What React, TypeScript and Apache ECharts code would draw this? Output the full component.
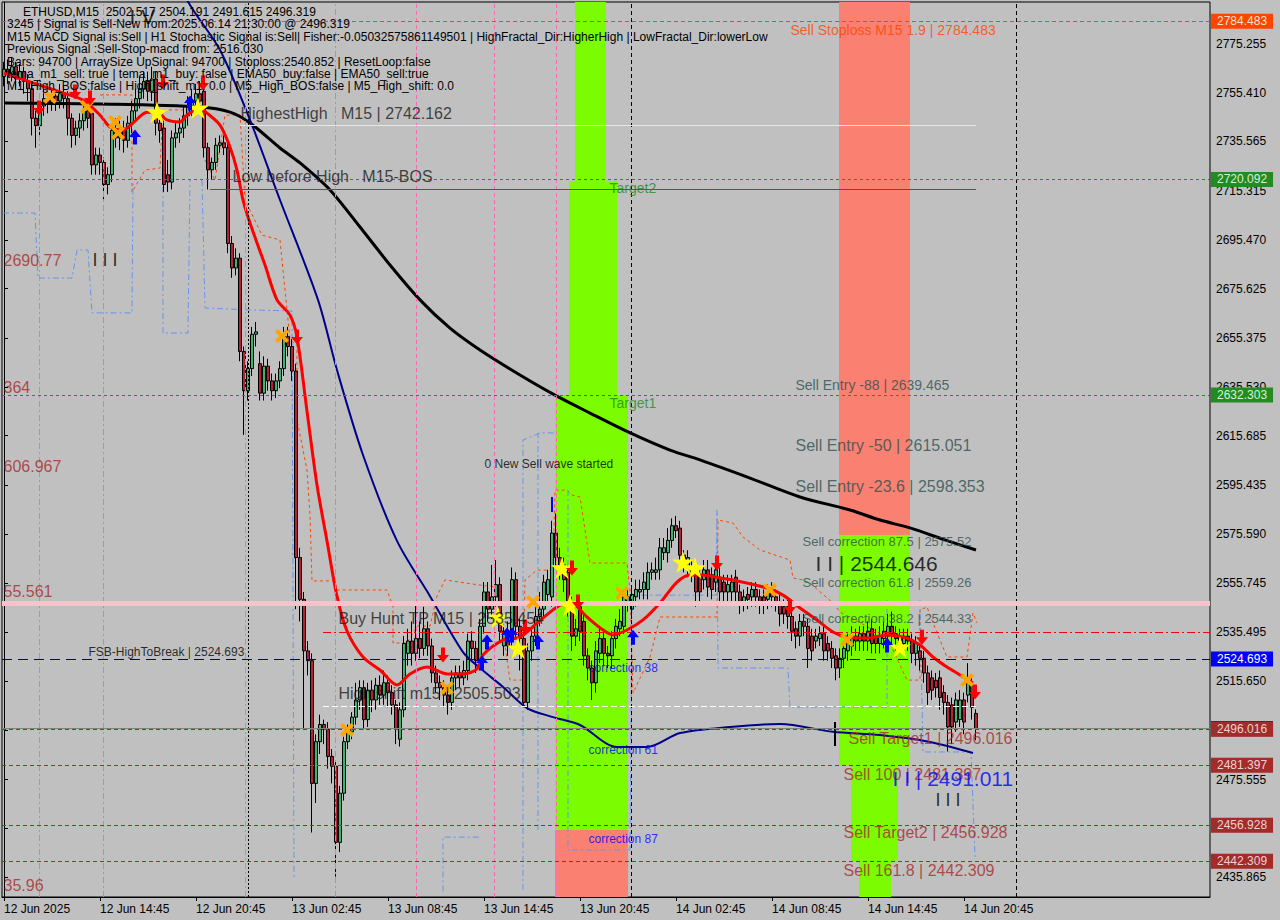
import React, { useEffect, useRef } from "react";
import * as echarts from "echarts";

const FONT = '"Liberation Sans", Arial, sans-serif';
const MONTHS = ["Jan", "Feb", "Mar", "Apr", "May", "Jun", "Jul", "Aug", "Sep", "Oct", "Nov", "Dec"];
const FIRST_BAR_UTC = Date.UTC(2025, 5, 12, 8, 45);
const SLOT_COUNT = 302;
const FIRST_LABEL = "12 Jun 2025";
const pad2 = (n: number) => String(n).padStart(2, "0");
const categories: string[] = Array.from({ length: SLOT_COUNT }, (_, k) => {
  const d = new Date(FIRST_BAR_UTC + k * 15 * 60000);
  return `${d.getUTCDate()} ${MONTHS[d.getUTCMonth()]} ${pad2(d.getUTCHours())}:${pad2(d.getUTCMinutes())}`;
});

const Y_MIN = 2427.72;
const Y_MAX = 2792.37;
const yTicks = [
  2775.255, 2755.41, 2735.565, 2715.315, 2695.47, 2675.625, 2655.375, 2635.53, 2615.685,
  2595.435, 2575.59, 2555.745, 2535.495, 2515.65, 2495.805, 2475.555, 2455.71, 2435.865,
];
// tick labels hidden behind the price badges in the reference are not drawn
const yTickLabels = [
  2775.255, 2755.41, 2735.565, 2715.315, 2695.47, 2675.625, 2655.375, 2635.53, 2615.685,
  2595.435, 2575.59, 2555.745, 2535.495, 2515.65, 2475.555, 2435.865,
];

// [open, close, low, high]
const candles: number[][] = [
  [2762, 2765, 2758, 2768], [2765, 2763, 2759, 2769], [2763, 2766, 2760, 2770], [2766, 2761, 2757, 2768],
  [2761, 2764, 2758, 2767], [2764, 2760, 2755, 2766], [2760, 2757, 2752, 2763], [2757, 2745, 2738, 2759],
  [2745, 2742, 2733, 2748], [2742, 2750, 2738, 2752], [2750, 2753, 2746, 2757], [2753, 2751, 2747, 2756],
  [2751, 2754, 2748, 2757], [2754, 2752, 2748, 2757], [2752, 2755, 2749, 2759], [2755, 2753, 2749, 2758],
  [2753, 2745, 2738, 2756], [2745, 2738, 2733, 2747], [2738, 2741, 2734, 2744], [2741, 2744, 2737, 2747],
  [2744, 2748, 2740, 2751], [2748, 2745, 2741, 2752], [2747, 2726, 2722, 2749], [2726, 2730, 2722, 2733],
  [2730, 2727, 2722, 2733], [2727, 2718, 2712, 2729], [2718, 2722, 2714, 2725], [2722, 2740, 2719, 2742],
  [2740, 2737, 2733, 2745], [2737, 2741, 2732, 2744], [2741, 2736, 2731, 2744], [2736, 2743, 2733, 2746],
  [2743, 2748, 2739, 2752], [2748, 2753, 2744, 2757], [2753, 2757, 2749, 2762], [2757, 2760, 2753, 2764],
  [2760, 2756, 2752, 2764], [2756, 2761, 2752, 2766], [2761, 2743, 2738, 2764], [2743, 2740, 2735, 2747],
  [2741, 2718, 2715, 2744], [2722, 2719, 2715, 2728], [2719, 2737, 2716, 2740], [2737, 2739, 2733, 2743],
  [2739, 2741, 2735, 2745], [2741, 2746, 2737, 2750], [2746, 2750, 2742, 2754], [2750, 2752, 2746, 2757],
  [2752, 2755, 2748, 2759], [2755, 2752, 2747, 2760], [2756, 2733, 2729, 2759], [2733, 2724, 2716, 2735],
  [2724, 2727, 2720, 2729], [2727, 2734, 2724, 2737], [2734, 2735, 2731, 2738], [2735, 2733, 2730, 2738],
  [2733, 2694, 2690, 2736], [2694, 2684, 2680, 2697], [2684, 2688, 2681, 2692], [2688, 2650, 2646, 2690],
  [2650, 2634, 2616, 2652], [2634, 2643, 2630, 2646], [2643, 2657, 2640, 2660], [2657, 2658, 2652, 2662],
  [2645, 2633, 2630, 2650], [2633, 2644, 2630, 2648], [2644, 2638, 2634, 2647], [2638, 2634, 2630, 2641],
  [2634, 2638, 2631, 2641], [2638, 2643, 2635, 2646], [2643, 2656, 2640, 2660], [2656, 2652, 2648, 2660],
  [2652, 2642, 2638, 2655], [2642, 2566, 2545, 2645], [2566, 2549, 2540, 2570], [2549, 2528, 2496, 2552],
  [2528, 2524, 2518, 2532], [2524, 2474, 2454, 2527], [2474, 2491, 2466, 2494], [2491, 2498, 2486, 2502],
  [2498, 2496, 2490, 2500], [2496, 2485, 2480, 2499], [2485, 2481, 2474, 2488], [2481, 2450, 2436, 2483],
  [2450, 2470, 2446, 2473], [2470, 2491, 2467, 2493], [2491, 2495, 2488, 2498], [2495, 2501, 2492, 2503],
  [2501, 2508, 2498, 2515], [2508, 2513, 2504, 2516], [2513, 2500, 2496, 2516], [2500, 2512, 2497, 2515],
  [2512, 2508, 2503, 2516], [2508, 2514, 2504, 2517], [2514, 2510, 2506, 2518], [2510, 2515, 2506, 2520],
  [2515, 2511, 2505, 2518], [2511, 2506, 2502, 2514], [2506, 2496, 2490, 2508], [2492, 2504, 2489, 2507],
  [2504, 2531, 2501, 2534], [2527, 2532, 2522, 2537], [2532, 2527, 2522, 2540], [2527, 2533, 2524, 2547],
  [2533, 2529, 2525, 2540], [2529, 2537, 2526, 2546], [2537, 2530, 2526, 2540], [2530, 2519, 2515, 2533],
  [2519, 2515, 2511, 2522], [2515, 2513, 2508, 2518], [2513, 2510, 2505, 2516], [2510, 2507, 2502, 2513],
  [2507, 2517, 2504, 2520], [2517, 2519, 2512, 2522], [2519, 2517, 2513, 2522], [2517, 2520, 2514, 2524],
  [2520, 2532, 2516, 2535], [2532, 2529, 2524, 2536], [2529, 2524, 2519, 2532], [2524, 2538, 2520, 2541],
  [2538, 2552, 2535, 2556], [2552, 2545, 2540, 2556], [2545, 2550, 2541, 2563], [2550, 2555, 2546, 2565],
  [2555, 2536, 2532, 2558], [2530, 2536, 2526, 2539], [2536, 2530, 2526, 2540], [2535, 2557, 2530, 2562],
  [2557, 2538, 2533, 2560], [2538, 2533, 2520, 2541], [2533, 2507, 2505, 2536], [2507, 2528, 2504, 2531],
  [2528, 2534, 2524, 2537], [2534, 2542, 2530, 2546], [2542, 2545, 2538, 2552], [2545, 2556, 2541, 2559],
  [2551, 2557, 2547, 2561], [2550, 2576, 2546, 2581], [2576, 2566, 2562, 2584], [2566, 2563, 2557, 2570],
  [2563, 2557, 2552, 2566], [2560, 2547, 2542, 2563], [2547, 2534, 2528, 2550], [2534, 2537, 2530, 2541],
  [2546, 2536, 2532, 2550], [2540, 2526, 2522, 2543], [2526, 2521, 2516, 2529], [2521, 2515, 2508, 2524],
  [2515, 2528, 2511, 2532], [2527, 2533, 2523, 2537], [2533, 2527, 2522, 2537], [2527, 2526, 2521, 2530],
  [2526, 2533, 2521, 2536], [2533, 2538, 2529, 2541], [2537, 2540, 2534, 2545], [2538, 2550, 2535, 2553],
  [2548, 2550, 2544, 2553], [2545, 2551, 2541, 2554], [2550, 2553, 2546, 2557], [2552, 2553, 2549, 2557],
  [2553, 2556, 2549, 2560], [2553, 2560, 2549, 2564], [2560, 2561, 2557, 2564], [2560, 2561, 2557, 2566],
  [2561, 2570, 2557, 2574], [2568, 2570, 2565, 2574], [2568, 2573, 2564, 2578], [2573, 2579, 2570, 2582],
  [2579, 2577, 2574, 2583], [2578, 2567, 2563, 2581], [2567, 2564, 2560, 2569], [2562, 2566, 2558, 2569],
  [2562, 2560, 2556, 2565], [2560, 2552, 2546, 2563], [2559, 2552, 2548, 2562], [2557, 2561, 2553, 2565],
  [2561, 2554, 2550, 2565], [2559, 2553, 2549, 2562], [2556, 2561, 2552, 2564], [2558, 2552, 2548, 2562],
  [2556, 2552, 2547, 2559], [2552, 2555, 2548, 2559], [2552, 2556, 2548, 2559], [2558, 2552, 2548, 2561],
  [2552, 2547, 2543, 2555], [2547, 2550, 2544, 2553], [2551, 2549, 2545, 2554], [2550, 2553, 2546, 2556],
  [2553, 2550, 2546, 2556], [2550, 2547, 2543, 2553], [2550, 2547, 2543, 2553], [2549, 2552, 2545, 2555],
  [2552, 2550, 2546, 2556], [2550, 2548, 2544, 2553], [2548, 2543, 2538, 2552], [2546, 2543, 2539, 2549],
  [2546, 2542, 2537, 2549], [2542, 2536, 2532, 2545], [2537, 2534, 2529, 2540], [2534, 2540, 2530, 2543],
  [2540, 2538, 2534, 2543], [2538, 2529, 2521, 2541], [2534, 2528, 2524, 2537], [2532, 2534, 2529, 2537],
  [2533, 2535, 2530, 2538], [2535, 2528, 2524, 2538], [2531, 2528, 2524, 2534], [2529, 2525, 2521, 2532],
  [2526, 2521, 2516, 2529], [2521, 2525, 2517, 2529], [2525, 2529, 2521, 2532], [2528, 2532, 2524, 2535],
  [2530, 2534, 2526, 2538], [2534, 2532, 2528, 2537], [2532, 2535, 2528, 2538], [2535, 2532, 2528, 2538],
  [2532, 2536, 2528, 2540], [2537, 2531, 2527, 2541], [2534, 2531, 2527, 2537], [2531, 2534, 2527, 2538],
  [2533, 2536, 2529, 2540], [2534, 2538, 2530, 2543], [2538, 2535, 2531, 2544], [2535, 2533, 2528, 2538],
  [2534, 2532, 2527, 2537], [2531, 2534, 2527, 2537], [2534, 2532, 2528, 2537], [2532, 2527, 2523, 2535],
  [2527, 2531, 2522, 2534], [2528, 2525, 2520, 2531], [2525, 2519, 2515, 2528], [2519, 2511, 2506, 2522],
  [2517, 2512, 2508, 2520], [2516, 2513, 2509, 2519], [2517, 2509, 2504, 2520], [2511, 2507, 2502, 2514],
  [2507, 2497, 2487, 2510], [2506, 2497, 2490, 2509], [2499, 2508, 2495, 2511], [2500, 2508, 2497, 2512],
  [2508, 2499, 2494, 2511], [2510, 2516, 2507, 2523], [2514, 2505, 2500, 2517], [2502.517, 2496.319, 2491.615, 2504.191],
];

// moving averages, [bar index, price]
const slowEma = [
  [0, 2751.2], [24, 2750.8], [49, 2749.6], [56.5, 2747.5], [61.5, 2743.1], [69, 2732.9], [74, 2726.8],
  [81.5, 2715.8], [89, 2700.7], [96.5, 2685.2], [104, 2671.0], [111.5, 2659.5], [119, 2650.6], [129, 2640.4],
  [137.75, 2632.2], [146.5, 2624.9], [156, 2617.2], [166.5, 2609.8], [174, 2605.8], [186.5, 2598.4],
  [199, 2590.7], [211.5, 2585.4], [219, 2581.3], [226.5, 2578.1], [235.25, 2573.2], [243, 2569.1],
];
const midEma = [
  [40, 2812], [46.5, 2791.1], [54, 2772.8], [61.5, 2744.3], [69, 2711.7], [78.5, 2671.0], [83.25, 2642.4],
  [89.75, 2607.8], [98.25, 2572.8], [106.5, 2550.3], [114.75, 2527.5], [119, 2521.0], [124.75, 2513.3],
  [130.75, 2504.7], [137.25, 2501.0], [144, 2497.8], [153.25, 2488.8], [160.75, 2488.8], [169, 2494.5],
  [181.5, 2497.0], [194, 2498.2], [207.25, 2495.0], [219, 2493.7], [231.5, 2490.9], [242.25, 2486.4],
];
const fastEma = [
  [0, 2763.4], [7.25, 2759.4], [14, 2755.7], [19.75, 2752.4], [24, 2746.3], [26.5, 2741.4], [29.75, 2740.2],
  [32.25, 2743.1], [35.75, 2747.5], [38.25, 2747.5], [40.75, 2744.3], [44, 2743.5], [45.75, 2746.3],
  [49, 2749.2], [50.75, 2747.1], [54, 2742.2], [56.5, 2733.3], [58.25, 2723.9], [59.75, 2711.7],
  [61.5, 2702.3], [65.25, 2685.2], [68.25, 2671.0], [71.5, 2664.8], [73.25, 2655.9], [75.75, 2625.7],
  [78.25, 2595.6], [80.75, 2572.8], [83.25, 2550.3], [85.75, 2536.1], [89.75, 2525.5], [94, 2520.2],
  [98.25, 2514.1], [101.5, 2518.6], [105.75, 2521.4], [110.75, 2518.6], [114.75, 2518.6], [118.25, 2520.6],
  [119.75, 2526.3], [124.75, 2532.4], [129, 2533.6], [133.25, 2539.3], [138.25, 2545.9], [141.5, 2547.9],
  [145.75, 2541.8], [149.75, 2536.5], [152.25, 2534.5], [155.75, 2536.5], [159.75, 2540.6], [164, 2547.5],
  [168.25, 2556.0], [171.5, 2558.9], [174.75, 2558.9], [179, 2557.7], [182.25, 2556.9], [190.75, 2553.6],
  [194.75, 2550.7], [199, 2545.5], [203.25, 2540.6], [207.25, 2535.7], [210.75, 2533.6], [215.75, 2533.2],
  [220.75, 2534.5], [225.75, 2533.2], [229, 2530.4], [232.25, 2525.5], [235.75, 2521.4], [239, 2518.2],
  [242.25, 2514.9],
];

// fractal channels (step lines), [bar index, price]
const upperFractal = [
  [[24, 2754.5], [32, 2754.5], [32, 2714.95], [35.25, 2723.9], [39, 2724.7], [39.75, 2748.4], [45.25, 2748.4]],
  [[50.25, 2728.0], [52.75, 2719.8], [55.25, 2746.3], [59, 2746.3], [60.25, 2711.7], [64.5, 2697.4], [69, 2695.4],
   [71.5, 2654.7], [73.25, 2652.6], [73.25, 2622.1], [75.75, 2601.7], [76.5, 2583.4], [77, 2556.5], [82.75, 2556.5],
   [83.25, 2552.8], [95.75, 2552.8], [97.25, 2545.9], [97.25, 2531.2], [100.75, 2531.2], [103.25, 2538.1],
   [106.5, 2538.1], [108.25, 2550.3], [110.25, 2556.9], [119, 2554.8], [122.75, 2554.0], [124, 2544.7],
   [126.5, 2516.1], [129.75, 2516.1], [130.25, 2556.9], [133.25, 2560.9], [137.25, 2560.9], [137.75, 2593.5],
   [140.75, 2593.5], [142, 2591.5], [144, 2590.7], [145.25, 2577.3], [146.5, 2563.8], [155.75, 2563.8],
   [156.5, 2552.8], [157.25, 2510.8], [161.5, 2525.5], [164, 2541.8], [178.25, 2541.8], [178.5, 2581.3],
   [182.25, 2580.1], [184.75, 2574.4], [189, 2569.1], [196.5, 2565.0], [197.25, 2557.7], [199.75, 2556.9],
   [201.5, 2555.6], [207.25, 2547.5], [209, 2543.8], [220.75, 2533.6], [225.75, 2516.1], [229, 2516.1],
   [229, 2544.7], [230.75, 2545.9], [232.25, 2539.4], [235.75, 2525.5], [240.75, 2525.5], [242.25, 2543.4],
   [243.25, 2539.4]],
];
const lowerFractal = [
  [[-0.25, 2706.4], [7.75, 2706.4], [8.5, 2679.9], [17, 2679.9], [18.25, 2691.3], [21, 2691.3], [22, 2665.7],
   [32, 2665.7], [32.25, 2719.0]],
  [[39.75, 2717.0], [39.75, 2657.5], [46, 2657.5], [46.5, 2719.8]],
  [[49.5, 2719.8], [50.25, 2667.7], [61.5, 2666.9], [72, 2666.5], [72.5, 2435.5]],
  [[109.75, 2430], [109.75, 2452.1], [119.5, 2452.1]],
  [[129.75, 2430.6], [129.75, 2613.9], [134, 2616.8], [137.75, 2616.8]],
  [[133.5, 2455.0], [133.5, 2616.8]],
  [[141, 2593.5], [141, 2446.9], [156.5, 2446.9], [157, 2550.7], [178, 2550.7], [178.25, 2585.4], [178.5, 2521.0],
   [196, 2521.0], [196.5, 2505.1], [220.75, 2505.1], [220.75, 2548.7]],
  [[229, 2548.7], [229.75, 2486.8], [241.75, 2486.8], [242.75, 2444.0]],
];

// signal markers, [bar index, price]
const sellArrows = [
  [8.75, 2749.2], [17.75, 2755.7], [21.5, 2753.3], [39.75, 2759.8], [49.75, 2759.4], [73.25, 2655.9],
  [109.75, 2526.3], [130.25, 2537.7], [142, 2561.8], [143.5, 2547.9], [178.25, 2563.8], [196.5, 2545.9],
  [229.5, 2533.6], [242.75, 2511.2],
];
const buyArrows = [
  [32.75, 2737.4], [46.5, 2751.2], [119.5, 2523.1], [120.75, 2531.6], [125.75, 2534.5], [127, 2534.5],
  [133.5, 2531.6], [157.25, 2533.6], [220.75, 2530.4],
];
const stars = [
  [38.25, 2747.5], [48.5, 2749.2], [123.5, 2541.8], [128.5, 2529.2], [139.5, 2561.8], [141.5, 2546.7],
  [169.75, 2564.2], [172.75, 2561.8], [224, 2529.6],
];
const crosses = [
  [11.5, 2753.7], [20.75, 2749.6], [27.75, 2743.5], [28.5, 2739.0], [69.5, 2656.3], [85.75, 2495.8],
  [110.75, 2512.9], [132.25, 2547.9], [154.5, 2551.6], [191.5, 2552.8], [210.75, 2532.4], [240.75, 2516.1],
];

// price levels
const stoplossLevel = 2784.483;
const targetLevels = [2720.092, 2632.303];
const pinkLevel = 2547.5;
const buyHuntLevel = 2535.454;
const fsbLevel = 2524.693;
const highShiftLevel = 2505.503;
const bidLevel = 2496.319;
const sellLevels = [2496.016, 2481.397, 2456.928, 2442.309];
const highestHighLevel = 2742.162;
const lowBeforeHighLevel = 2716.2;

// zones [from corner, to corner]
const zones = [
  { from: [142.75, Y_MAX], to: [150.5, 2719.4], kind: "green" },
  { from: [141.25, 2719.4], to: [153.25, 2632.2], kind: "green" },
  { from: [137.75, 2632.2], to: [156, 2455.0], kind: "green" },
  { from: [137.75, 2455.0], to: [156, Y_MIN], kind: "salmon" },
  { from: [208.75, Y_MAX], to: [226.5, 2575.2], kind: "salmon" },
  { from: [208.75, 2575.2], to: [226.5, 2481.5], kind: "green" },
  { from: [211.75, 2481.5], to: [223.5, 2442.4], kind: "green" },
  { from: [213.75, 2442.4], to: [221.75, Y_MIN], kind: "green" },
];

const verticals = [
  { at: 8.75, kind: "cyan" }, { at: 24.75, kind: "cyan" }, { at: 60.25, kind: "cyan" }, { at: 82.75, kind: "cyan" },
  { at: 61, kind: "dotted" }, { at: 103, kind: "pink" }, { at: 122.5, kind: "pink" }, { at: 138, kind: "pink" },
  { at: 156.75, kind: "dashed" }, { at: 253, kind: "dashed" },
];
const shortMarks = [
  { from: [137, 2590.7], to: [137, 2584.6], kind: "blue" },
  { from: [207.75, 2499.0], to: [207.75, 2489.2], kind: "black" },
];

const annotations = [
  { text: "Sell Stoploss M15 1.9 | 2784.483", at: [196.5, 2780.96], kind: "stoploss" },
  { text: "HighestHigh   M15 | 2742.162", at: [59, 2747.1], kind: "level" },
  { text: "Low before High   M15-BOS", at: [57, 2721.1], kind: "level" },
  { text: "2690.77", at: [-0.25, 2687.2], kind: "edge" },
  { text: "I I I", at: [22, 2687.2], kind: "waveBlack" },
  { text: "364", at: [-0.25, 2635.5], kind: "edge" },
  { text: "606.967", at: [-0.25, 2603.3], kind: "edge" },
  { text: "55.561", at: [-0.25, 2552.0], kind: "edge" },
  { text: "35.96", at: [-0.25, 2432.6], kind: "edge" },
  { text: "Target2", at: [151.25, 2716.6], kind: "target" },
  { text: "Target1", at: [151.25, 2629.0], kind: "target" },
  { text: "0 New Sell wave started", at: [120, 2604.1], kind: "small" },
  { text: "Sell Entry -88 | 2639.465", at: [197.75, 2636.3], kind: "entrySmall" },
  { text: "Sell Entry -50 | 2615.051", at: [197.75, 2611.5], kind: "entry" },
  { text: "Sell Entry -23.6 | 2598.353", at: [197.75, 2594.8], kind: "entry" },
  { text: "Sell correction 87.5 | 2575.52", at: [199.5, 2572.4], kind: "correction" },
  { text: "I I | 2544.646", at: [202.75, 2563.4], kind: "waveBig" },
  { text: "Sell correction 61.8 | 2559.26", at: [199.5, 2556.0], kind: "correction" },
  { text: "Sell correction 38.2 | 2544.33", at: [199.5, 2541.0], kind: "correction" },
  { text: "Buy Hunt TP M15 | 2535.454", at: [83.5, 2541.0], kind: "level" },
  { text: "FSB-HighToBreak | 2524.693", at: [21, 2527.5], kind: "small" },
  { text: "High shift m15 | 2505.503", at: [83.5, 2510.8], kind: "level" },
  { text: "correction 38", at: [146, 2521.0], kind: "blueSmall" },
  { text: "correction 61", at: [146, 2487.6], kind: "blueSmall" },
  { text: "correction 87", at: [146, 2451.3], kind: "blueSmall" },
  { text: "Sell Target1 | 2496.016", at: [211, 2492.5], kind: "sell" },
  { text: "Sell 100 | 2481.397", at: [209.75, 2477.8], kind: "sell" },
  { text: "I I | 2491.011", at: [222, 2476.2], kind: "waveBlue" },
  { text: "I I I", at: [232.75, 2467.2], kind: "waveBlack" },
  { text: "Sell Target2 | 2456.928", at: [209.75, 2453.8], kind: "sell" },
  { text: "Sell 161.8 | 2442.309", at: [209.75, 2438.7], kind: "sell" },
  { text: "I V", at: [31.25, 2786.3], kind: "waveBig" },
];

const headerLines = [
  "ETHUSD,M15  2502.517 2504.191 2491.615 2496.319",
  "3245 | Signal is Sell-New from:2025.06.14 21:30:00 @ 2496.319",
  "M15 MACD Signal is:Sell | H1 Stochastic Signal is:Sell| Fisher:-0.05032575861149501 | HighFractal_Dir:HigherHigh | LowFractal_Dir:lowerLow",
  "Previous Signal :Sell-Stop-macd from: 2516.030",
  "Bars: 94700 | ArraySize UpSignal: 94700 | Stoploss:2540.852 | ResetLoop:false",
  "tema_m1_sell: true | tema_m1_buy: false | EMA50_buy:false | EMA50_sell:true",
  "M1_High_BOS:false | High_shift_m1: 0.0 | M5_High_BOS:false | M5_High_shift: 0.0",
];

const TEXT_STYLES: Record<string, any> = {
  stoploss: { color: "#FF4500", fontSize: 14 },
  level: { color: "#1A1A1A", fontSize: 16 },
  edge: { color: "#A52A2A", fontSize: 16 },
  waveBlack: { color: "#000000", fontSize: 18 },
  target: { color: "#228B22", fontSize: 14 },
  small: { color: "#000000", fontSize: 12 },
  entrySmall: { color: "#2F4F4F", fontSize: 14 },
  entry: { color: "#2F4F4F", fontSize: 16 },
  correction: { color: "#2F4F4F", fontSize: 13 },
  waveBig: { color: "#000000", fontSize: 21 },
  blueSmall: { color: "#0000FF", fontSize: 12 },
  sell: { color: "#A52A2A", fontSize: 16 },
  waveBlue: { color: "#0000FF", fontSize: 21 },
};
const ZONE_COLORS: Record<string, string> = { green: "#7CFC00", salmon: "#FA8072" };
const VERTICAL_STYLES: Record<string, any> = {
  cyan: { color: "#00E0E8", type: [6, 3, 2, 3], width: 1 },
  pink: { color: "#FF69B4", type: [4, 3], width: 1 },
  dotted: { color: "#000000", type: [2, 2], width: 1 },
  dashed: { color: "#000000", type: [4, 3], width: 1 },
};

const DOWN_ARROW = "path://M4,0 L8,0 L8,7 L12,7 L6,14 L0,7 L4,7 Z";
const UP_ARROW = "path://M6,0 L12,7 L8,7 L8,14 L4,14 L4,7 L0,7 Z";
const STAR = "path://M50,0 L61,35 L98,35 L68,57 L79,91 L50,70 L21,91 L32,57 L2,35 L39,35 Z";
const CROSS = "path://M0,2 L2,0 L5,3 L8,0 L10,2 L7,5 L10,8 L8,10 L5,7 L2,10 L0,8 L3,5 Z";

function badge(bg: string, fg: string, text: string) {
  return {
    show: true, position: "end", distance: 1, formatter: text, backgroundColor: bg, color: fg,
    padding: [2, 6, 1, 6], fontSize: 12, fontFamily: FONT,
  };
}

function buildOption() {
  const labelOn = (index: number) => index % 24 === 0 && index < candles.length;
  const hLines: any[] = [
    { yAxis: stoplossLevel, lineStyle: { color: "#FF4500", type: [4, 3], width: 1 }, label: badge("#FF4500", "#FFE2D6", stoplossLevel.toFixed(3)) },
    ...targetLevels.map((v) => ({ yAxis: v, lineStyle: { color: "#228B22", type: [3, 3], width: 1 }, label: badge("#228B22", "#D8F0D8", v.toFixed(3)) })),
    { yAxis: pinkLevel, lineStyle: { color: "#FFC0CB", type: "solid", width: 5 } },
    { yAxis: fsbLevel, lineStyle: { color: "#000080", type: [10, 6], width: 1 }, label: badge("#0000FF", "#FFFFFF", fsbLevel.toFixed(3)) },
    { yAxis: bidLevel, lineStyle: { color: "#808080", type: "solid", width: 1 }, label: badge("#000000", "#FFFFFF", bidLevel.toFixed(3)) },
    ...sellLevels.map((v) => ({ yAxis: v, lineStyle: { color: "#A52A2A", type: [4, 3], width: 1 }, label: badge("#A52A2A", "#E8D4D4", v.toFixed(3)) })),
    [{ coord: [79.75, buyHuntLevel], lineStyle: { color: "#FF0000", type: [8, 3, 2, 3], width: 1 } }, { coord: [SLOT_COUNT - 0.5, buyHuntLevel] }],
    [{ coord: [79.75, highShiftLevel], lineStyle: { color: "#FFFFFF", type: [6, 3], width: 1 } }, { coord: [243, highShiftLevel] }],
    [{ coord: [59, highestHighLevel], lineStyle: { color: "#E6E6E6", type: "solid", width: 1 } }, { coord: [243, highestHighLevel] }],
    [{ coord: [51.5, lowBeforeHighLevel], lineStyle: { color: "#555555", type: "solid", width: 1 } }, { coord: [243, lowBeforeHighLevel] }],
  ];
  const vLines: any[] = [
    ...verticals.map((v) => ({ xAxis: v.at, lineStyle: VERTICAL_STYLES[v.kind] })),
    ...shortMarks.map((m) => [
      { coord: m.from, lineStyle: { color: m.kind === "blue" ? "#0000FF" : "#000000", width: 2, type: "solid" } },
      { coord: m.to },
    ]),
  ];

  const fractalSeries = (segments: number[][][], color: string, type: any) =>
    segments.map((seg) => ({
      type: "line", xAxisIndex: 1, yAxisIndex: 0, data: seg, showSymbol: false, symbol: "none", silent: true,
      z: 2, lineStyle: { color, width: 1, type },
    }));

  const markerSeries = (data: number[][], symbol: string, size: any, color: string, z: number) => ({
    type: "scatter", xAxisIndex: 1, yAxisIndex: 0, data, symbol, symbolSize: size, silent: true, z,
    itemStyle: { color, opacity: 1 },
  });

  return {
    animation: false,
    backgroundColor: "#C0C0C0",
    grid: { left: 2, right: 70, top: 2, bottom: 23, show: true, borderColor: "#000000", borderWidth: 1, backgroundColor: "#C0C0C0" },
    xAxis: [
      {
        type: "category", data: categories, boundaryGap: true,
        axisLine: { show: true, onZero: false, lineStyle: { color: "#000000" } },
        axisTick: { show: true, interval: labelOn, alignWithLabel: true, length: 4, lineStyle: { color: "#000000" } },
        axisLabel: {
          interval: labelOn, align: "left", color: "#000000", fontSize: 12, fontFamily: FONT, margin: 6,
          formatter: (value: string, index: number) => (index === 0 ? FIRST_LABEL : index < candles.length ? value : ""),
        },
        splitLine: { show: false },
      },
      { type: "value", min: -0.5, max: SLOT_COUNT - 0.5, show: false, splitLine: { show: false } },
    ],
    yAxis: {
      type: "value", position: "right", min: Y_MIN, max: Y_MAX, scale: true,
      axisLine: { show: true, lineStyle: { color: "#000000" } },
      axisTick: { show: true, customValues: yTicks, length: 4, lineStyle: { color: "#000000" } },
      axisLabel: { customValues: yTickLabels, formatter: (v: number) => v.toFixed(3), color: "#000000", fontSize: 12, fontFamily: FONT, margin: 6 },
      splitLine: { show: false },
    },
    graphic: {
      elements: headerLines.map((t, k) => ({
        type: "text", x: k === 0 ? 23 : 7, y: 12 + k * 12.4, z: 100, silent: true,
        style: { text: t, fill: "#000000", font: `12px ${FONT}`, verticalAlign: "middle", textVerticalAlign: "middle" },
      })),
    },
    series: [
      {
        type: "line", xAxisIndex: 1, yAxisIndex: 0, data: [], z: 0, silent: true,
        markArea: {
          silent: true,
          data: zones.map((zn) => [
            { coord: zn.from, itemStyle: { color: ZONE_COLORS[zn.kind], opacity: 1 } },
            { coord: zn.to },
          ]),
        },
      },
      {
        type: "line", xAxisIndex: 1, yAxisIndex: 0, data: [], z: 1, silent: true,
        markLine: { symbol: ["none", "none"], silent: true, label: { show: false }, data: vLines },
      },
      {
        type: "line", xAxisIndex: 1, yAxisIndex: 0, data: [], z: 1, silent: true,
        markLine: { symbol: ["none", "none"], silent: true, label: { show: false }, data: hLines },
      },
      ...fractalSeries(upperFractal, "#FF4500", [3, 3]),
      ...fractalSeries(lowerFractal, "#6495ED", [6, 3, 2, 3]),
      {
        type: "candlestick", xAxisIndex: 0, yAxisIndex: 0, data: candles, barWidth: 3, z: 3, silent: true,
        itemStyle: { color: "#3CB371", color0: "#B22234", borderColor: "#000000", borderColor0: "#000000", borderWidth: 1 },
      },
      { type: "line", xAxisIndex: 1, yAxisIndex: 0, data: slowEma, smooth: 0.3, showSymbol: false, symbol: "none", z: 4, silent: true, lineStyle: { color: "#000000", width: 3 } },
      { type: "line", xAxisIndex: 1, yAxisIndex: 0, data: midEma, smooth: 0.3, showSymbol: false, symbol: "none", z: 4, silent: true, lineStyle: { color: "#00008B", width: 2 } },
      { type: "line", xAxisIndex: 1, yAxisIndex: 0, data: fastEma, smooth: 0.3, showSymbol: false, symbol: "none", z: 4, silent: true, lineStyle: { color: "#FF0000", width: 3 } },
      markerSeries(crosses, CROSS, 14, "#FFA500", 5),
      markerSeries(stars, STAR, 22, "#FFFF00", 5),
      markerSeries(sellArrows, DOWN_ARROW, [12, 15], "#FF0000", 6),
      markerSeries(buyArrows, UP_ARROW, [12, 15], "#0000FF", 6),
      {
        type: "scatter", xAxisIndex: 1, yAxisIndex: 0, symbolSize: 1, z: 8, silent: true, clip: false,
        itemStyle: { color: "rgba(0,0,0,0)" },
        data: annotations.map((a) => ({
          value: a.at,
          label: {
            show: true, position: "right", distance: 0, formatter: a.text, fontFamily: FONT,
            ...TEXT_STYLES[a.kind],
          },
        })),
      },
    ],
  };
}

export default function App() {
  const ref = useRef<HTMLDivElement>(null);
  useEffect(() => {
    if (!ref.current) return;
    const chart = echarts.init(ref.current, undefined, { renderer: "svg" });
    chart.setOption(buildOption() as any);
    return () => chart.dispose();
  }, []);
  return (
    <div
      ref={ref}
      style={{ position: "fixed", left: 0, top: 0, width: 1280, height: 920, background: "#C0C0C0" }}
    />
  );
}
